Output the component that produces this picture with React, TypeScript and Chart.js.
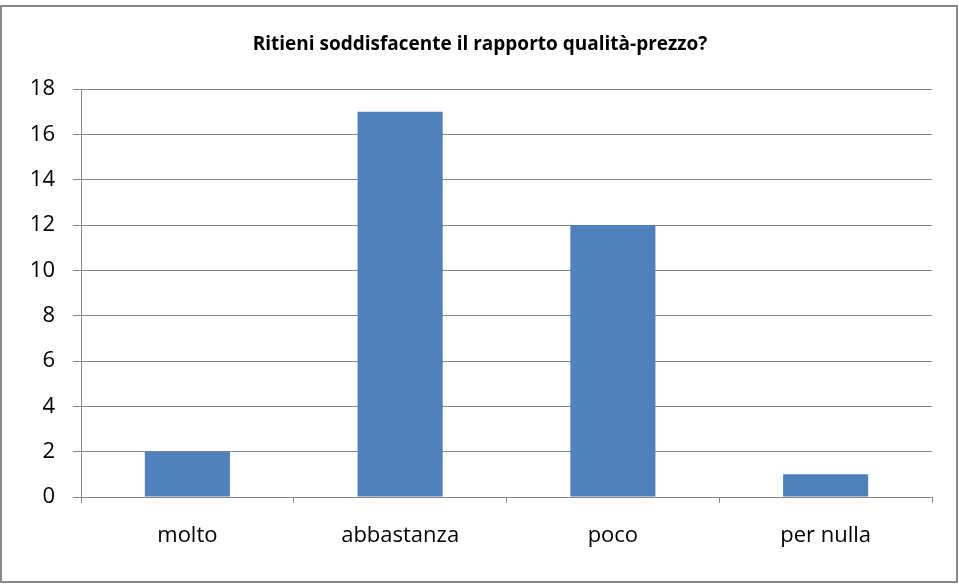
import React, { useEffect, useRef } from "react";
import { Chart, registerables } from "chart.js";

Chart.register(...registerables);

const categories = ["molto", "abbastanza", "poco", "per nulla"];
const values = [2, 17, 12, 1];
const titleText = "Ritieni soddisfacente il rapporto qualità-prezzo?";
const yMax = 18;
const yStep = 2;

const FONT = "'Open Sans', Lato, sans-serif";

const framePlugin = {
  id: "frame",
  afterDraw(chart: any) {
    const ctx = chart.ctx;
    ctx.save();
    ctx.strokeStyle = "#898989";
    ctx.lineWidth = 2;
    ctx.strokeRect(1, 6, 956, 576);
    ctx.fillStyle = "#000";
    ctx.font = `bold 19px ${FONT}`;
    ctx.textAlign = "center";
    ctx.textBaseline = "middle";
    ctx.fillText(titleText, 480, 45);
    ctx.restore();
  },
};

export default function App() {
  const ref = useRef<HTMLCanvasElement>(null);
  useEffect(() => {
    if (!ref.current) return;
    const chart = new Chart(ref.current, {
      type: "bar",
      data: {
        labels: categories,
        datasets: [
          {
            data: values,
            backgroundColor: "#4F81BD",
            borderWidth: 0,
            barPercentage: 0.4,
            categoryPercentage: 1,
          },
        ],
      },
      options: {
        animation: false,
        responsive: false,
        layout: { padding: { top: 89, left: 0, right: 27, bottom: 0 } },
        plugins: { legend: { display: false }, tooltip: { enabled: false }, title: { display: false } },
        scales: {
          x: {
            grid: {
              display: true,
              drawOnChartArea: false,
              drawTicks: true,
              tickLength: 6,
              color: "#868686",
              offset: true,
            },
            border: { display: true, color: "#868686", width: 1 },
            ticks: { color: "#000", font: { family: FONT, size: 22 }, padding: 20 },
            afterFit(scale: any) {
              scale.height = 87;
            },
          },
          y: {
            min: 0,
            max: yMax,
            ticks: { stepSize: yStep, color: "#000", font: { family: FONT, size: 22 }, padding: 18 },
            grid: { color: "#868686", tickLength: 8, lineWidth: 1 },
            border: { display: true, color: "#868686", width: 1 },
            afterFit(scale: any) {
              scale.width = 81;
            },
          },
        },
      },
      plugins: [framePlugin],
    });
    return () => chart.destroy();
  }, []);
  return (
    <div style={{ position: "absolute", left: 0, top: 0, width: 959, height: 584, background: "#fff" }}>
      <canvas ref={ref} width={959} height={584} style={{ display: "block" }} />
    </div>
  );
}
